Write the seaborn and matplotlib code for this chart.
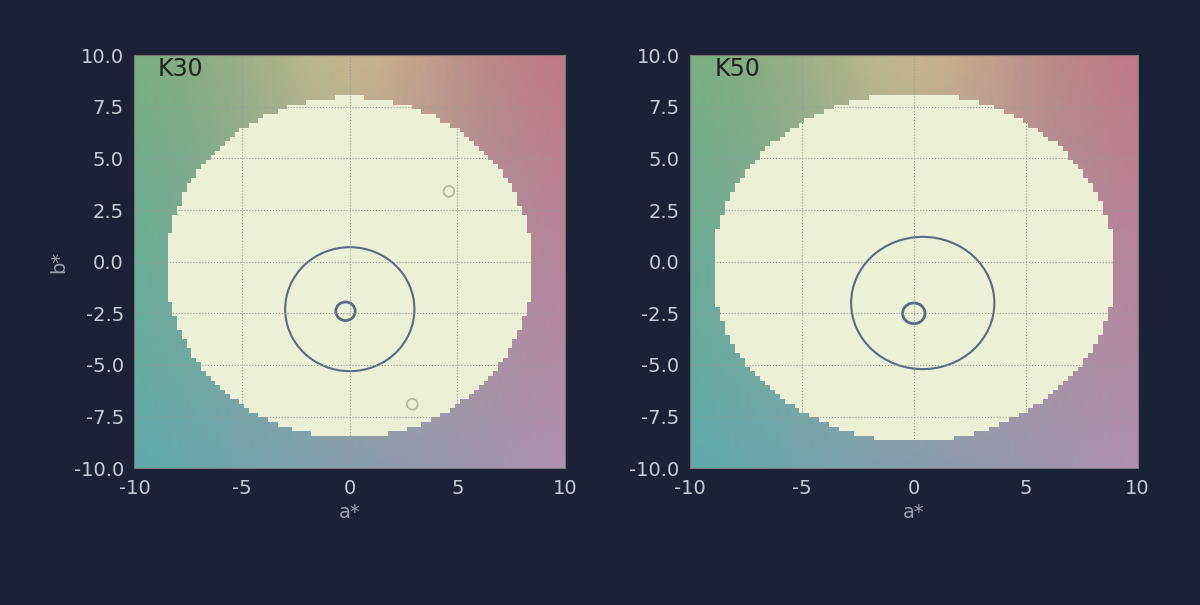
import numpy as np
import matplotlib
matplotlib.use("Agg")
import matplotlib.pyplot as plt
from matplotlib.patches import Circle
import seaborn as sns

# panel data
panel_titles = ["K30", "K50"]
x_ticks = [-10, -5, 0, 5, 10]
y_ticks = [-10.0, -7.5, -5.0, -2.5, 0.0, 2.5, 5.0, 7.5, 10.0]
# tolerance area (center a, center b, half width, half height)
tol_area = [(0.0, -0.3, 8.6, 8.3), (0.0, -0.3, 9.1, 8.5)]
# big circle (a, b, r), small circle (a, b, r)
big_circle = [(0.0, -2.3, 3.0), (0.4, -2.0, 3.2)]
small_circle = [(-0.2, -2.4, 0.45), (0.0, -2.5, 0.5)]
extra_points_a = [[4.6, 2.9], []]
extra_points_b = [[3.4, -6.9], []]

sns.set_style("white")
plt.rcParams["font.family"] = ["DejaVu Sans"]
bg = "#1c2236"
fig = plt.figure(figsize=(12, 6.05), dpi=100, facecolor=bg)
axes = [fig.add_axes([0.112, 0.226, 0.359, 0.683]),
        fig.add_axes([0.575, 0.226, 0.373, 0.683])]

n = 90
g = np.linspace(-10, 10, n)
A, B = np.meshgrid(g, g)
u = (A + 10) / 20
v = (B + 10) / 20
tl = np.array([120, 175, 130]); tr = np.array([190, 120, 135])
bl = np.array([95, 170, 170]); br = np.array([175, 145, 175])
field = ((1 - u)[..., None] * v[..., None] * tl + u[..., None] * v[..., None] * tr
         + (1 - u)[..., None] * (1 - v)[..., None] * bl + u[..., None] * (1 - v)[..., None] * br)
field += 40 * np.exp(-((A) ** 2) / 30)[..., None] * v[..., None] * np.array([1, 0.8, 0.2])
field = np.clip(field, 0, 255) / 255

lc = "#5a6a80"
for i, ax in enumerate(axes):
    ca, cb, w, h = tol_area[i]
    inside = ((A - ca) / w) ** 2 + ((B - cb) / h) ** 2 <= 1
    img = field.copy()
    img[inside] = np.array([236, 240, 215]) / 255
    ax.imshow(img, extent=[-10, 10, -10, 10], origin="lower", interpolation="nearest", aspect="auto")
    for t in x_ticks[1:-1]:
        ax.axvline(t, color="#9a9a9a", lw=0.8, ls=":")
    for t in y_ticks[1:-1]:
        ax.axhline(t, color="#9a9a9a", lw=0.8, ls=":")
    a, b, r = big_circle[i]
    ax.add_patch(Circle((a, b), r, fill=False, ec=lc, lw=1.5))
    a, b, r = small_circle[i]
    ax.add_patch(Circle((a, b), r, fill=False, ec=lc, lw=2))
    sns.scatterplot(x=extra_points_a[i], y=extra_points_b[i], ax=ax, s=60,
                    facecolor="none", edgecolor="#b0b8a0", linewidth=1.2)
    ax.set_xlim(-10, 10)
    ax.set_ylim(-10, 10)
    ax.set_xticks(x_ticks)
    ax.set_yticks(y_ticks)
    ax.set_xticklabels([str(t) for t in x_ticks])
    ax.set_yticklabels([f"{t:.1f}" for t in y_ticks])
    ax.tick_params(colors="#c8ccd4", labelsize=14, length=4)
    for s in ax.spines.values():
        s.set_color("#777777")
    ax.set_xlabel("a*", color="#9aa0aa", fontsize=14)
    ax.text(-8.9, 9.0, panel_titles[i], fontsize=17, color="#222222")
axes[0].set_ylabel("b*", color="#9aa0aa", fontsize=14)

fig.savefig("out.png", facecolor=bg)
